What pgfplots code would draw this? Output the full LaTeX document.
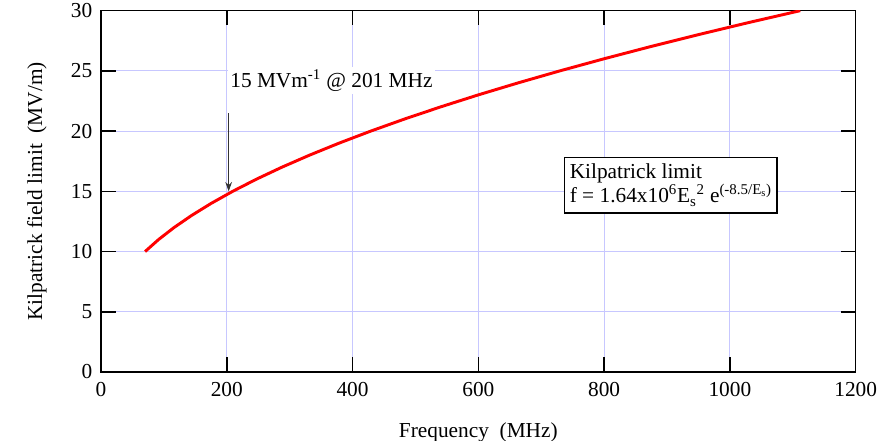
\documentclass[border=0pt]{standalone}
\usepackage{fontspec}
\setmainfont{Liberation Serif}
\usepackage{pgfplots}
\pgfplotsset{compat=1.18}
\usetikzlibrary{arrows.meta}

\begin{document}
\fontsize{16}{18}\selectfont
\begin{tikzpicture}
\useasboundingbox (0,0) rectangle (666pt,330.75pt);
\begin{axis}[
  at={(75.75pt,51.75pt)}, anchor=south west,
  scale only axis, width=566pt, height=271pt,
  xmin=0, xmax=1200, ymin=0, ymax=30,
  xtick={0,200,...,1200}, ytick={0,5,...,30},
  tick align=inside, tick pos=both, major tick length=11pt,
  every tick/.style={black, line width=1.1pt},
  axis line style={line width=1.1pt},
  grid=major, grid style={blue!22, line width=0.6pt},
  /pgf/number format/assume math mode=true,
  /pgf/number format/set thousands separator={},
  tick label style={font=\fontsize{16}{18}\selectfont},
  xticklabel style={yshift=-2pt},
  yticklabel style={xshift=-1pt},
  label style={font=\fontsize{16}{18}\selectfont},
  xlabel={Frequency\ \ (MHz)},
  ylabel={Kilpatrick field limit\ \ (MV/m)},
  xlabel style={at={(axis description cs:0.5,-0.166)}, anchor=center},
  ylabel style={at={(axis description cs:-0.085,0.5)}, anchor=center},
]
\addplot[red, line width=2.2pt] coordinates {
  (70.1,10) (91.6,11) (116.3,12) (144.2,13) (175.2,14) (209.4,15)
  (246.8,16) (287.5,17) (331.4,18) (378.5,19) (428.9,20) (482.5,21)
  (539.4,22) (599.5,23) (663.0,24) (729.6,25) (799.5,26) (872.7,27)
  (949.2,28) (1028.8,29) (1111.9,30)};
\node[fill=white, anchor=base west, inner sep=2pt] at (axis cs:201,23.6)
  {15 MVm\textsuperscript{-1} @ 201 MHz};
\draw[-{Stealth[length=7pt,width=5pt]}, gray!40!black, line width=0.8pt]
  (axis cs:203,21.5) -- (axis cs:203,15);
\node[draw, line width=1.1pt, fill=white, align=left, anchor=center,
  inner xsep=4pt, inner ysep=5pt] at (axis cs:906,15.5)
  {Kilpatrick limit\\
   f = 1.64x10\textsuperscript{6}E\textsubscript{s}\textsuperscript{2}
   e\textsuperscript{(-8.5/E\textsubscript{s})}};
\end{axis}
\end{tikzpicture}
\end{document}
